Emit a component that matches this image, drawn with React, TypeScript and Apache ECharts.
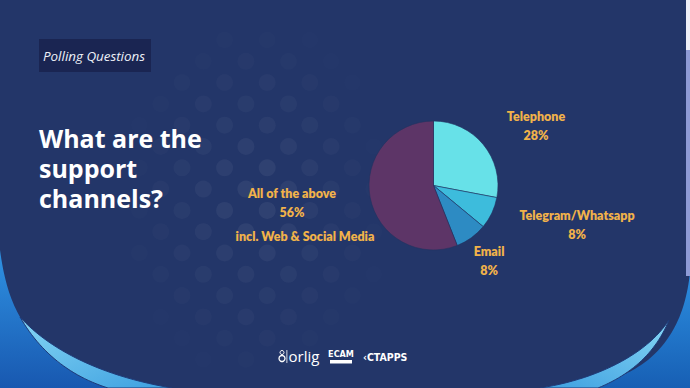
import React, { useEffect, useRef } from "react";
import * as echarts from "echarts";

// ---- data ----
const categories = ["Telephone", "Telegram/Whatsapp", "Email", "All of the above"];
const shares = [28, 8, 8, 56];
const sliceColors = ["#67e1e8", "#3dbcdc", "#2d8bc3", "#5d3567"];
const extraNote = "incl. Web & Social Media";
const titleLines = ["What are the", "support", "channels?"];
const tagText = "Polling Questions";
const logoTexts = ["orlig", "ECAM", "CTAPPS"];

const BG = "#233669";
const GOLD = "#f1b24a";

// label centers (layout only)
const labelCenters: Record<string, [number, number]> = {
  "Telephone": [536, 125.5],
  "Telegram/Whatsapp": [577, 225],
  "Email": [489, 261],
  "All of the above": [292, 203],
};

type P = [number, number];
function cubic(p0: P, p1: P, p2: P, p3: P, n = 28): P[] {
  const out: P[] = [];
  for (let k = 0; k <= n; k++) {
    const t = k / n, u = 1 - t;
    out.push([
      u * u * u * p0[0] + 3 * u * u * t * p1[0] + 3 * u * t * t * p2[0] + t * t * t * p3[0],
      u * u * u * p0[1] + 3 * u * u * t * p1[1] + 3 * u * t * t * p2[1] + t * t * t * p3[1],
    ]);
  }
  return out;
}

function buildDots() {
  const out: any[] = [];
  const cx = 255, cy = 200;
  for (let i = -4; i < 12; i++) {
    for (let j = -2; j < 18; j++) {
      if (Math.abs(i + j) % 2 === 1) continue;
      const x = 182 + 21.3 * i;
      const y = 40 + 21.3 * j;
      const d = Math.sqrt((x - cx) ** 2 + ((y - cy) / 1.35) ** 2);
      const o = 0.065 * (1 - d / 145);
      if (o <= 0.006) continue;
      out.push({
        type: "circle",
        silent: true,
        shape: { cx: x, cy: y, r: 8.5 },
        style: { fill: "#ffffff", opacity: o },
      });
    }
  }
  return out;
}

export default function App() {
  const ref = useRef<HTMLDivElement>(null);
  useEffect(() => {
    if (!ref.current) return;
    const chart = echarts.init(ref.current, null, { renderer: "svg" });
    const G: any = (echarts as any).graphic;
    const data = categories.map((c, i) => ({
      name: c,
      value: shares[i],
      itemStyle: { color: sliceColors[i] },
    }));

    const leftOuter: P[] = [
      ...cubic([0, 250], [6, 295], [18, 322], [42, 344]),
      ...cubic([42, 344], [66, 364], [92, 380], [122, 388]),
      [0, 388],
    ];
    const leftStripe: P[] = [
      ...cubic([20, 317], [46, 346], [95, 375], [172, 388]),
      ...cubic([108, 388], [70, 376], [40, 352], [20, 317]),
    ];
    const rightOuter: P[] = [
      ...cubic([690, 272], [686, 312], [672, 340], [648, 360]),
      ...cubic([648, 360], [626, 377], [598, 387], [560, 388]),
      [690, 388],
    ];
    const rightStripe: P[] = [
      ...cubic([669, 320], [650, 350], [604, 378], [540, 388]),
      ...cubic([598, 388], [632, 374], [656, 352], [669, 320]),
    ];

    const option: any = {
      animation: false,
      backgroundColor: BG,
      graphic: [
        ...buildDots(),
        {
          type: "polygon",
          silent: true,
          shape: { points: leftOuter },
          style: {
            fill: new G.LinearGradient(0, 0, 0, 1, [
              { offset: 0, color: "#2f92e2" },
              { offset: 1, color: "#1858b0" },
            ]),
          },
        },
        {
          type: "polygon",
          silent: true,
          shape: { points: leftStripe },
          style: {
            fill: new G.LinearGradient(0, 0, 1, 1, [
              { offset: 0, color: "#86d6f4" },
              { offset: 1, color: "#3c9fe0" },
            ]),
            stroke: "#1e3a78",
            lineWidth: 1,
          },
        },
        {
          type: "polygon",
          silent: true,
          shape: { points: rightOuter },
          style: {
            fill: new G.LinearGradient(0, 0, 0, 1, [
              { offset: 0, color: "#2c8ee0" },
              { offset: 1, color: "#175fb4" },
            ]),
          },
        },
        {
          type: "polygon",
          silent: true,
          shape: { points: rightStripe },
          style: {
            fill: new G.LinearGradient(1, 0, 0, 1, [
              { offset: 0, color: "#86d6f4" },
              { offset: 1, color: "#3d9fe0" },
            ]),
            stroke: "#1e3a78",
            lineWidth: 1,
          },
        },
        { type: "rect", silent: true, shape: { x: 686, y: 0, width: 4, height: 50 }, style: { fill: "#eef0f8" } },
        { type: "rect", silent: true, shape: { x: 686, y: 50, width: 4, height: 226 }, style: { fill: "#8e9bd6" } },
        // tag box
        { type: "rect", shape: { x: 39, y: 39, width: 112, height: 33 }, style: { fill: "#1a2552" } },
        {
          type: "text",
          x: 43,
          y: 56,
          style: {
            text: tagText,
            fill: "#eef1f8",
            font: "italic 500 13.4px 'Open Sans', sans-serif",
            verticalAlign: "middle",
          },
        },
        {
          type: "text",
          x: 39,
          y: 123,
          style: {
            text: titleLines.join("\n"),
            fill: "#ffffff",
            font: "700 25px 'Open Sans', sans-serif",
            lineHeight: 30,
            verticalAlign: "top",
          },
        },
        {
          type: "text",
          x: 305,
          y: 236,
          style: {
            text: extraNote,
            fill: GOLD,
            font: "800 12.5px Lato, sans-serif",
            align: "center",
            verticalAlign: "middle",
          },
        },
        // logos
        { type: "circle", shape: { cx: 282, cy: 352.5, r: 2 }, style: { fill: "none", stroke: "#ffffff", lineWidth: 1 } },
        { type: "circle", shape: { cx: 282, cy: 358.5, r: 3 }, style: { fill: "none", stroke: "#ffffff", lineWidth: 1.3 } },
        { type: "rect", shape: { x: 286.5, y: 350, width: 0.8, height: 13 }, style: { fill: "#ffffff" } },
        {
          type: "text",
          x: 288.5,
          y: 356,
          style: {
            text: logoTexts[0],
            fill: "#ffffff",
            font: "400 15px 'Open Sans', sans-serif",
            verticalAlign: "middle",
          },
        },
        {
          type: "text",
          x: 341,
          y: 354,
          style: {
            text: logoTexts[1],
            fill: "#ffffff",
            font: "700 9px 'DejaVu Sans Condensed', sans-serif",
            align: "center",
            verticalAlign: "middle",
          },
        },
        { type: "rect", shape: { x: 330, y: 360, width: 22, height: 3.5 }, style: { fill: "#ffffff" } },
        {
          type: "text",
          x: 363,
          y: 356.5,
          style: {
            text: "‹" + logoTexts[2],
            fill: "#ffffff",
            font: "700 10.5px 'DejaVu Sans Condensed', sans-serif",
            verticalAlign: "middle",
          },
        },
      ],
      series: [
        {
          type: "pie",
          center: [433.5, 185.5],
          radius: 64.5,
          startAngle: 90,
          clockwise: true,
          data,
          itemStyle: { borderColor: "#22325f", borderWidth: 0.6 },
          label: {
            show: true,
            position: "outside",
            color: GOLD,
            fontFamily: "Lato, sans-serif",
            fontWeight: 800,
            fontSize: 12.5,
            lineHeight: 19,
            align: "center",
            formatter: (p: any) => `${p.name}\n${p.value}%`,
          },
          labelLine: { show: false },
          labelLayout: (params: any) => {
            const name = categories[params.dataIndex];
            const c = labelCenters[name];
            return { x: c[0], y: c[1], align: "center", verticalAlign: "middle" };
          },
          emphasis: { disabled: true },
        },
      ],
    };
    chart.setOption(option);
    return () => chart.dispose();
  }, []);
  return (
    <div
      ref={ref}
      style={{ position: "fixed", left: 0, top: 0, width: 690, height: 388 }}
    />
  );
}
